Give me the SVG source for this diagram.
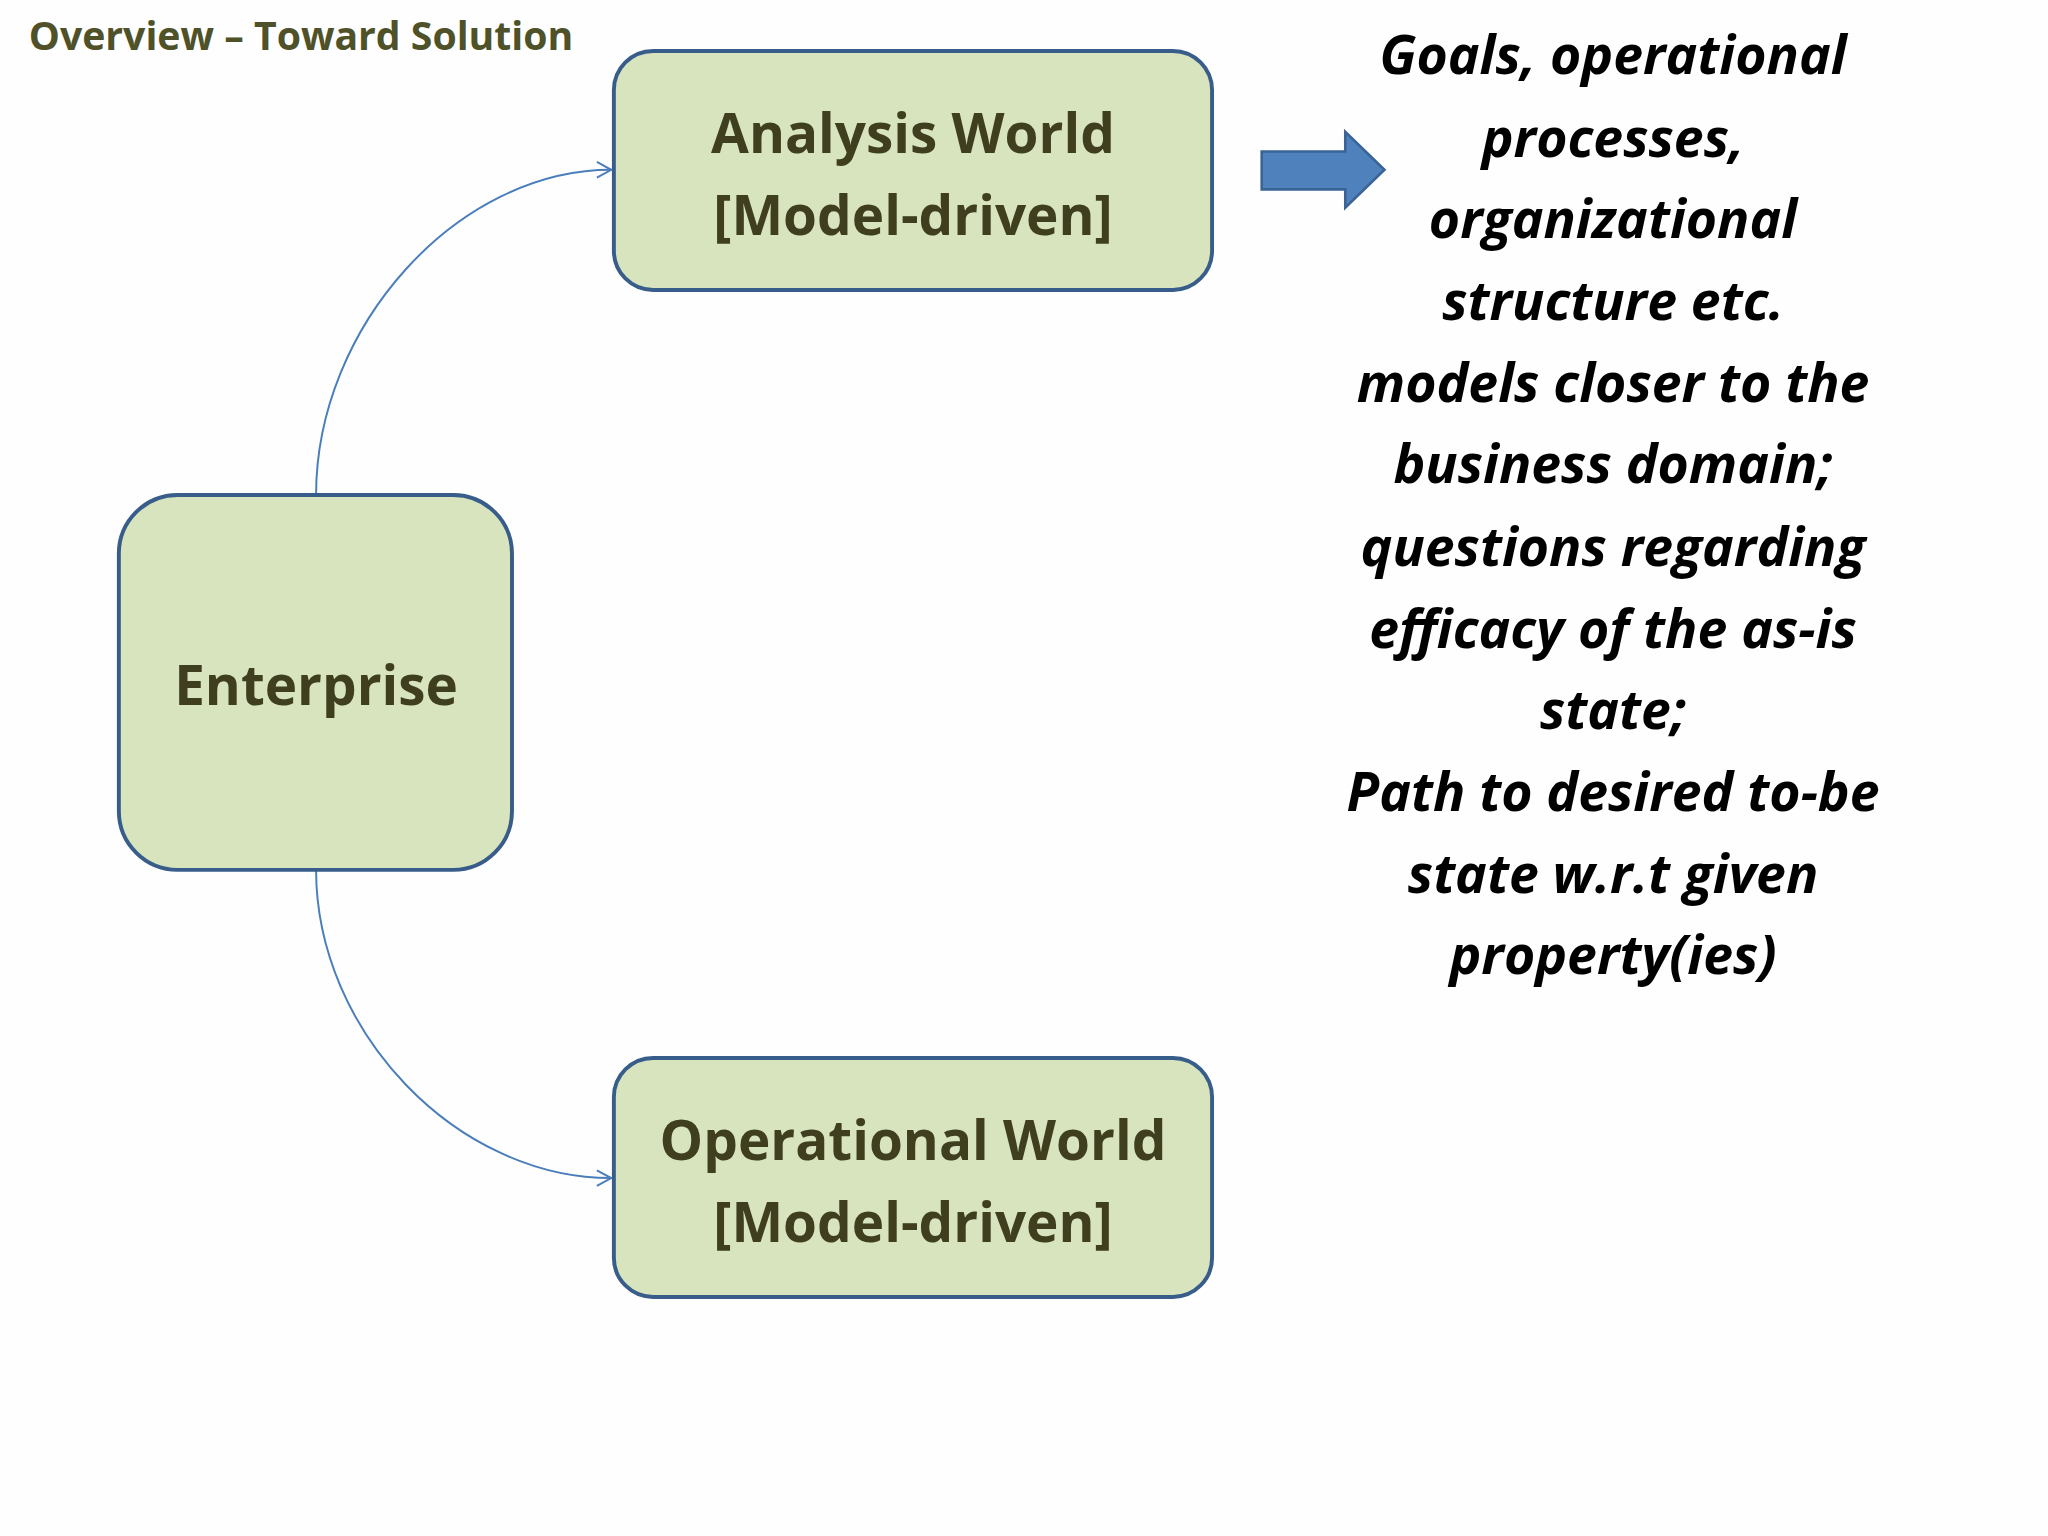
<svg xmlns="http://www.w3.org/2000/svg" width="2048" height="1536" viewBox="0 0 2048 1536">
<style>
.box{fill:#d7e4bd;stroke:#385d8a;stroke-width:3}
.lbl{font-family:"Open Sans","Liberation Sans",sans-serif;font-weight:bold;font-size:42px;fill:#3f3f1f;text-anchor:middle}
.note{font-family:"Open Sans","Liberation Sans",sans-serif;font-weight:bold;font-style:italic;font-size:41px;fill:#000;text-anchor:middle}
.con{fill:none;stroke:#4a7ebb;stroke-width:1.5}
</style>
<defs><marker id="a" markerWidth="14" markerHeight="14" refX="12" refY="7" orient="auto" markerUnits="userSpaceOnUse"><path d="M1,1 L12,7 L1,13" fill="none" stroke="#4a7ebb" stroke-width="1.5"/></marker></defs>
<rect width="2048" height="1536" fill="#fefefe"/>
<g transform="scale(1.3061)">
<text x="22" y="38" font-family="Open Sans,Liberation Sans,sans-serif" font-weight="bold" font-size="30" fill="#4f5128">Overview – Toward Solution</text>
<g id="connectors">
<path class="con" d="M242,379 C242,250 350,130 468,130" marker-end="url(#a)"/>
<path class="con" d="M242,666 C242,790 350,902 468,902" marker-end="url(#a)"/>
<path d="M966,116 L1030,116 L1030,101 L1060,130 L1030,159 L1030,145 L966,145 Z" fill="#4f81bd" stroke="#3a6496" stroke-width="2"/>
</g>
<g id="analysis"><rect class="box" x="470" y="39" width="458" height="183" rx="30"/>
<text class="lbl" x="699" y="117">Analysis World</text><text class="lbl" x="699" y="180">[Model-driven]</text></g>
<g id="enterprise"><rect class="box" x="91" y="379" width="301" height="287" rx="45"/>
<text class="lbl" x="242" y="540">Enterprise</text></g>
<g id="operational"><rect class="box" x="470" y="810" width="458" height="183" rx="30"/>
<text class="lbl" x="699" y="888">Operational World</text><text class="lbl" x="699" y="951">[Model-driven]</text></g>
<g id="notes" class="note">
<text x="1235" y="57">Goals, operational</text>
<text x="1235" y="120">processes,</text>
<text x="1235" y="182">organizational</text>
<text x="1235" y="245">structure etc.</text>
<text x="1235" y="308">models closer to the</text>
<text x="1235" y="370">business domain;</text>
<text x="1235" y="433">questions regarding</text>
<text x="1235" y="496">efficacy of the as-is</text>
<text x="1235" y="558">state;</text>
<text x="1235" y="621">Path to desired to-be</text>
<text x="1235" y="684">state w.r.t given</text>
<text x="1235" y="746">property(ies)</text>
</g>
</g>
</svg>
